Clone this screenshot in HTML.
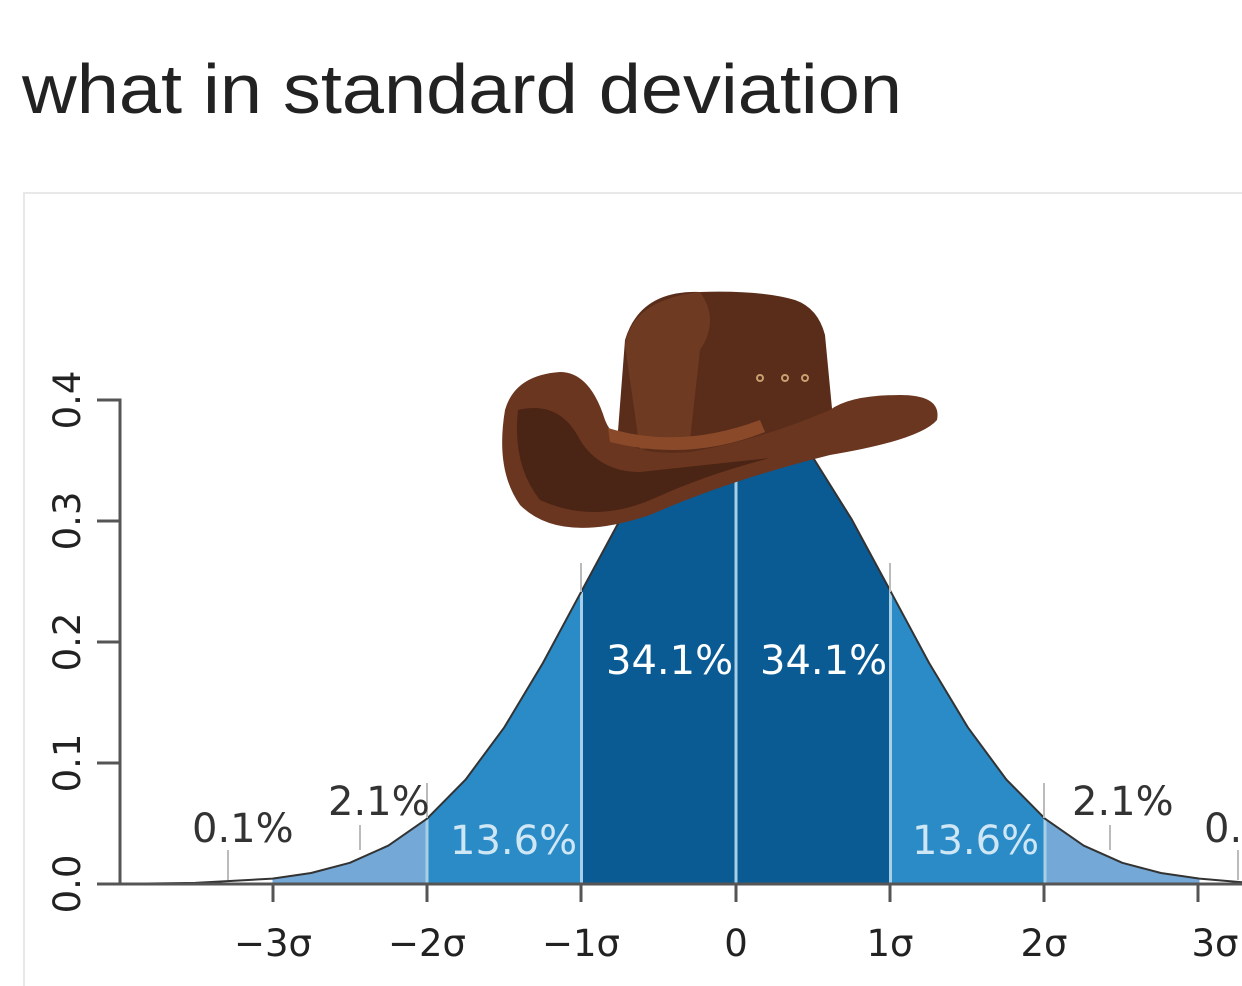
<!DOCTYPE html>
<html><head><meta charset="utf-8"><style>
body{margin:0;background:#fff;width:1242px;height:986px;overflow:hidden}
svg{display:block}
</style></head><body>
<svg width="1242" height="986" viewBox="0 0 1242 986" font-family="'DejaVu Sans','Liberation Sans',sans-serif">
<text x="22" y="113" font-family="'Liberation Sans',sans-serif" font-size="70" textLength="880" lengthAdjust="spacingAndGlyphs" fill="#222">what in standard deviation</text>
<path d="M24 986 V193 H1242" fill="none" stroke="#e8e8e8" stroke-width="2"/>
<path d="M272.5 884 L272.5 878.6 L311.1 873 L349.8 862.8 L388.4 845.6 L427 818.7 L427 884Z" fill="#74a8d6"/>
<path d="M1045 884 L1045 818.7 L1083.6 845.6 L1122.3 862.8 L1160.9 873 L1199.5 878.6 L1199.5 884Z" fill="#74a8d6"/>
<path d="M427 884 L427 818.7 L465.6 779.6 L504.3 727.3 L542.9 663 L581.5 591.2 L581.5 884Z" fill="#2a8bc6"/>
<path d="M890.5 884 L890.5 591.2 L929.1 663 L967.8 727.3 L1006.4 779.6 L1045 818.7 L1045 884Z" fill="#2a8bc6"/>
<path d="M581.5 884 L581.5 591.2 L620.1 519.7 L658.8 458 L697.4 416.2 L736 401.3 L774.6 416.2 L813.3 458 L851.9 519.7 L890.5 591.2 L890.5 884Z" fill="#0a5a94"/>
<g stroke="#a8cfe8" stroke-width="3">
<line x1="427" y1="884" x2="427" y2="819"/><line x1="581.5" y1="884" x2="581.5" y2="592"/>
<line x1="736" y1="884" x2="736" y2="402"/><line x1="890.5" y1="884" x2="890.5" y2="592"/>
<line x1="1045" y1="884" x2="1045" y2="819"/>
</g>
<path d="M120 883.8 L195.3 882.9 L272.5 878.6 L311.1 873 L349.8 862.8 L388.4 845.6 L427 818.7 L465.6 779.6 L504.3 727.3 L542.9 663 L581.5 591.2 L620.1 519.7 L658.8 458 L697.4 416.2 L736 401.3 L774.6 416.2 L813.3 458 L851.9 519.7 L890.5 591.2 L929.1 663 L967.8 727.3 L1006.4 779.6 L1045 818.7 L1083.6 845.6 L1122.3 862.8 L1160.9 873 L1199.5 878.6 L1242 882.2" fill="none" stroke="#333" stroke-width="2" stroke-linejoin="round"/>
<g stroke="#bbb" stroke-width="2">
<line x1="581" y1="563" x2="581" y2="592"/><line x1="890" y1="563" x2="890" y2="592"/>
<line x1="427" y1="783" x2="427" y2="818"/><line x1="1044" y1="783" x2="1044" y2="818"/>
<line x1="228" y1="850" x2="228" y2="880"/><line x1="360" y1="825" x2="360" y2="850"/>
<line x1="1110" y1="825" x2="1110" y2="850"/><line x1="1238" y1="850" x2="1238" y2="880"/>
</g>
<g stroke="#555" stroke-width="3" fill="none">
<path d="M97 400 H120 V884 H1242"/>
<line x1="97" y1="521" x2="120" y2="521"/><line x1="97" y1="642" x2="120" y2="642"/>
<line x1="97" y1="763" x2="120" y2="763"/><line x1="97" y1="884" x2="120" y2="884"/>
<line x1="273" y1="884" x2="273" y2="902"/><line x1="427" y1="884" x2="427" y2="902"/>
<line x1="581" y1="884" x2="581" y2="902"/><line x1="736" y1="884" x2="736" y2="902"/>
<line x1="890" y1="884" x2="890" y2="902"/><line x1="1044" y1="884" x2="1044" y2="902"/>
<line x1="1198" y1="884" x2="1198" y2="902"/>
</g>
<g font-size="37" fill="#222">
<text transform="translate(80,400) rotate(-90)" text-anchor="middle">0.4</text>
<text transform="translate(80,521) rotate(-90)" text-anchor="middle">0.3</text>
<text transform="translate(80,642) rotate(-90)" text-anchor="middle">0.2</text>
<text transform="translate(80,763) rotate(-90)" text-anchor="middle">0.1</text>
<text transform="translate(80,884) rotate(-90)" text-anchor="middle">0.0</text>
</g>
<g font-size="37" fill="#222" text-anchor="middle">
<text x="273" y="956">−3σ</text><text x="427" y="956">−2σ</text><text x="581" y="956">−1σ</text>
<text x="736" y="956">0</text><text x="890" y="956">1σ</text><text x="1044" y="956">2σ</text><text x="1215" y="956">3σ</text>
</g>
<g font-size="40">
<text x="606" y="674" fill="#fff">34.1%</text><text x="760" y="674" fill="#fff">34.1%</text>
<text x="450" y="854" fill="#cfe6f5">13.6%</text><text x="912" y="854" fill="#cfe6f5">13.6%</text>
<text x="328" y="815" fill="#333">2.1%</text><text x="1072" y="815" fill="#333">2.1%</text>
<text x="192" y="842" fill="#333">0.1%</text><text x="1204" y="842" fill="#333">0.1%</text>
</g>
<g>
<path d="M625 340 Q640 290 700 292 Q760 290 795 300 Q818 308 825 335 L835 440 L615 470 Z" fill="#5a2d1a"/>
<path d="M700 292 Q720 320 700 350 L690 440 L640 450 L625 345 Q632 300 700 292Z" fill="#6e3a22"/>
<path d="M505 410 Q495 470 520 505 Q560 545 650 515 Q730 480 830 455 Q920 440 937 420 Q942 395 900 395 Q850 395 830 410 Q760 440 690 452 Q620 458 605 420 Q590 372 560 372 Q515 375 505 410Z" fill="#6b3620"/>
<path d="M518 410 Q512 465 540 500 Q595 525 655 498 Q705 475 770 458 L640 472 Q600 472 580 440 Q560 400 518 410Z" fill="#4a2414"/>
<path d="M608 428 Q680 450 760 420 L765 432 Q690 462 610 442Z" fill="#8a4a2a"/>
<g fill="none" stroke="#c9a070" stroke-width="2"><circle cx="760" cy="378" r="3"/><circle cx="785" cy="378" r="3"/><circle cx="805" cy="378" r="3"/></g>
</g>
</svg>
</body></html>
